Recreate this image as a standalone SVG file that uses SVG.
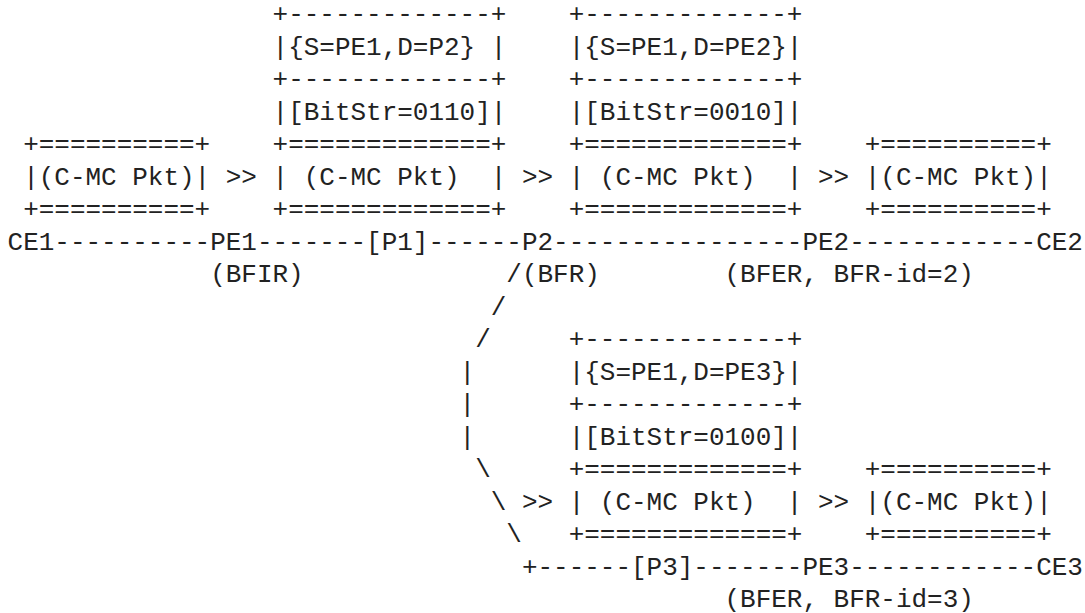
<svg xmlns="http://www.w3.org/2000/svg" width="1085" height="613" viewBox="0 0 1085 613" xml:space="preserve">
  <style>
    text { font-family: "Liberation Mono", "DejaVu Sans Mono", monospace; font-size: 25.97px; fill: #222; white-space: pre; }
  </style>
  <rect width="1085" height="613" fill="#fff"/>

  <!-- grid: column c at x = 7.6 + 15.585*c, row n baseline at y = 22 + 32.5*(n-1) -->

  <!-- BIER headers carried on each hop -->
  <g id="hdr-pe1-p2">
    <text x="272.55" y="22">+-------------+</text>
    <text x="272.55" y="54.5">|{S=PE1,D=P2} |</text>
    <text x="272.55" y="87">+-------------+</text>
    <text x="272.55" y="119.5">|[BitStr=0110]|</text>
  </g>
  <g id="hdr-p2-pe2">
    <text x="568.66" y="22">+-------------+</text>
    <text x="568.66" y="54.5">|{S=PE1,D=PE2}|</text>
    <text x="568.66" y="87">+-------------+</text>
    <text x="568.66" y="119.5">|[BitStr=0010]|</text>
  </g>
  <g id="hdr-p2-pe3">
    <text x="568.66" y="347">+-------------+</text>
    <text x="568.66" y="379.5">|{S=PE1,D=PE3}|</text>
    <text x="568.66" y="412">+-------------+</text>
    <text x="568.66" y="444.5">|[BitStr=0100]|</text>
  </g>

  <!-- customer multicast packets -->
  <g id="pkt-ce1">
    <text x="23.19" y="152">+==========+</text>
    <text x="23.19" y="184.5">|(C-MC Pkt)|</text>
    <text x="23.19" y="217">+==========+</text>
  </g>
  <g id="pkt-pe1">
    <text x="272.55" y="152">+=============+</text>
    <text x="272.55" y="184.5">| (C-MC Pkt)  |</text>
    <text x="272.55" y="217">+=============+</text>
  </g>
  <g id="pkt-p2">
    <text x="568.66" y="152">+=============+</text>
    <text x="568.66" y="184.5">| (C-MC Pkt)  |</text>
    <text x="568.66" y="217">+=============+</text>
  </g>
  <g id="pkt-pe2">
    <text x="864.78" y="152">+==========+</text>
    <text x="864.78" y="184.5">|(C-MC Pkt)|</text>
    <text x="864.78" y="217">+==========+</text>
  </g>
  <g id="pkt-p3">
    <text x="568.66" y="477">+=============+</text>
    <text x="568.66" y="509.5">| (C-MC Pkt)  |</text>
    <text x="568.66" y="542">+=============+</text>
  </g>
  <g id="pkt-pe3">
    <text x="864.78" y="477">+==========+</text>
    <text x="864.78" y="509.5">|(C-MC Pkt)|</text>
    <text x="864.78" y="542">+==========+</text>
  </g>

  <!-- routers -->
  <g id="ce1"><text x="7.6" y="249.5">CE1</text></g>
  <g id="pe1">
    <text x="210.2" y="249.5">PE1</text>
    <text x="210.2" y="282">(BFIR)</text>
  </g>
  <g id="p1"><text x="366.06" y="249.5">[P1]</text></g>
  <g id="p2">
    <text x="521.9" y="249.5">P2</text>
    <text x="521.9" y="282">(BFR)</text>
  </g>
  <g id="pe2">
    <text x="802.44" y="249.5">PE2</text>
    <text x="724.51" y="282">(BFER, BFR-id=2)</text>
  </g>
  <g id="ce2"><text x="1036.21" y="249.5">CE2</text></g>
  <g id="p3"><text x="631.0" y="574.5">[P3]</text></g>
  <g id="pe3">
    <text x="802.44" y="574.5">PE3</text>
    <text x="724.51" y="607">(BFER, BFR-id=3)</text>
  </g>
  <g id="ce3"><text x="1036.21" y="574.5">CE3</text></g>

  <!-- links and forwarding arrows -->
  <g id="connectors">
    <text x="54.36" y="249.5">----------</text>
    <text x="256.96" y="249.5">-------</text>
    <text x="428.4" y="249.5">------</text>
    <text x="553.08" y="249.5">----------------</text>
    <text x="849.19" y="249.5">------------</text>

    <text x="506.32" y="282">/</text>
    <text x="490.74" y="314.5">/</text>
    <text x="475.15" y="347">/</text>
    <text x="459.57" y="379.5">|</text>
    <text x="459.57" y="412">|</text>
    <text x="459.57" y="444.5">|</text>
    <text x="475.15" y="477">\</text>
    <text x="490.74" y="509.5">\</text>
    <text x="506.32" y="542">\</text>
    <text x="521.9" y="574.5">+------</text>
    <text x="693.34" y="574.5">-------</text>
    <text x="849.19" y="574.5">------------</text>

    <text x="225.78" y="184.5">&gt;&gt;</text>
    <text x="521.9" y="184.5">&gt;&gt;</text>
    <text x="818.03" y="184.5">&gt;&gt;</text>
    <text x="521.9" y="509.5">&gt;&gt;</text>
    <text x="818.03" y="509.5">&gt;&gt;</text>
  </g>
</svg>
